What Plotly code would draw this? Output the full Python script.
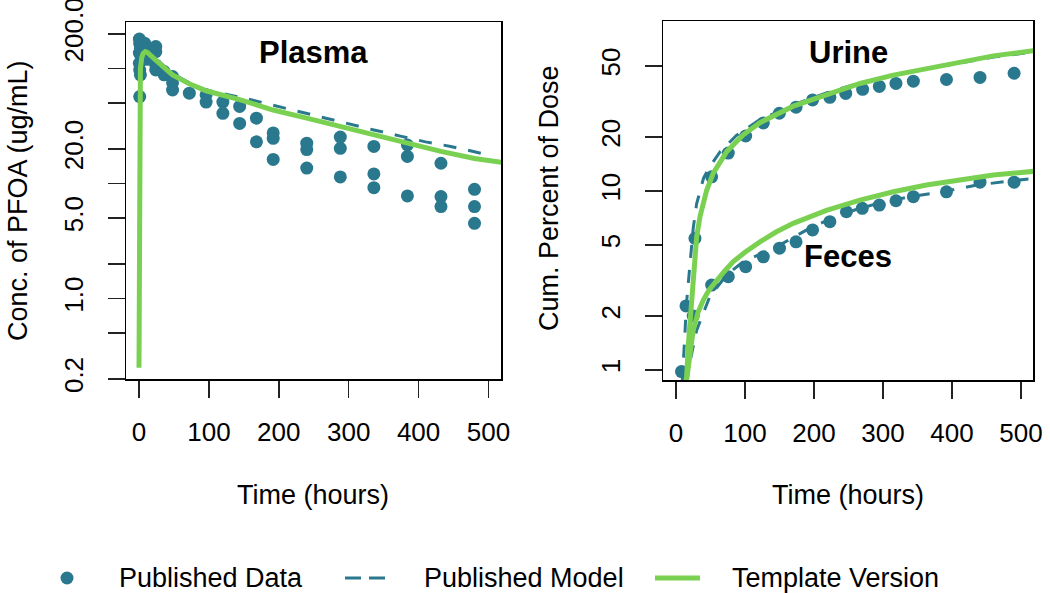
import plotly.graph_objects as go

# ---------------- data ----------------
# Plasma (left panel)
plasma_t = [0.5, 0.5, 0.5, 1, 1, 1, 2, 2, 4, 4, 8, 8, 12, 12,
            24, 24, 24, 24, 36, 36, 48, 48, 48, 72, 96, 96, 120, 120,
            144, 144, 168, 168, 192, 192, 192, 240, 240, 240, 288, 288, 288,
            336, 336, 336, 384, 384, 384, 432, 432, 432, 480, 480, 480]
plasma_v = [180, 136, 111, 165, 97, 57, 150, 88, 160, 125, 166, 145, 150, 120,
            155, 140, 107, 97, 94, 88, 85, 75, 65, 61, 59, 51, 51, 40.7,
            46.8, 33.3, 37, 23, 27.5, 24.7, 16.2, 22.4, 19.7, 13.6, 25.3, 20.2, 11.4,
            21.0, 12.1, 9.2, 21.6, 17.2, 7.8, 15.0, 7.7, 6.3, 8.9, 6.3, 4.5]

plasma_model_t = [0, 0.5, 1, 2, 4, 8, 12, 24, 48, 72, 96, 149, 190, 226, 264,
                  300, 336, 374, 410, 446, 484, 495]
plasma_model_v = [0.3, 45, 80, 105, 128, 140, 138, 122, 90, 75, 65, 55.5, 48.2,
                  42.4, 37, 32.8, 29.2, 25.8, 23.0, 21.0, 18.6, 18.0]

plasma_tmpl_t = [0, 0.25, 0.5, 1, 2, 4, 6, 9, 12, 24, 48, 72, 96, 145, 192,
                 240, 288, 336, 384, 432, 480, 520]
plasma_tmpl_v = [0.25, 8, 40, 75, 100, 125, 135, 140, 138, 118, 88, 73.5, 64,
                 53.4, 43.5, 37, 31.2, 26.3, 22.3, 19.0, 16.5, 15.2]

# Urine & feces (right panel)
urine_t = [8, 14.5, 27.5, 51.7, 75.8, 101, 126.6, 149.8, 174, 198, 223, 246,
           270.5, 294.7, 318.8, 344, 392, 440.6, 490]
urine_v = [0.98, 2.28, 5.44, 12.0, 16.3, 20.3, 24.0, 27.2, 29.4, 32.3, 33.4,
           35.1, 37.0, 38.4, 39.9, 41.1, 42.0, 43.1, 45.5]

feces_t = [25, 51.7, 75.8, 101, 126.6, 150, 174, 198, 223, 247, 270, 294.7,
           318.8, 344, 392, 440.6, 490]
feces_v = [2.0, 2.98, 3.32, 3.78, 4.29, 4.79, 5.2, 6.06, 6.74, 7.66, 8.0, 8.35,
           8.82, 9.3, 9.9, 11.2, 11.2]

urine_model_t = [9, 11, 13, 15, 18, 21, 25, 30, 40, 48, 64, 88, 120, 170, 218,
                 266.7, 315, 363, 411.6, 460, 520]
urine_model_v = [0.85, 1.1, 1.6, 2.3, 3.2, 4.5, 6.2, 8.5, 11.8, 13.5, 16.6,
                 20.5, 24.8, 30.3, 35.3, 40.2, 44.4, 48.2, 52.2, 56.0, 60.0]

urine_tmpl_t = [14, 15.5, 18, 22.7, 30, 34.8, 44.5, 54, 63.8, 73.5, 97.5, 121.7,
                170, 218, 266.7, 315, 363, 411.6, 460, 520]
urine_tmpl_v = [0.8, 0.92, 1.4, 2.36, 5.55, 7.2, 10.1, 12.6, 14.3, 16.6, 20.6,
                24.1, 29.8, 34.7, 39.9, 44.4, 48.4, 52.7, 56.9, 61.0]

feces_model_t = [16, 17.8, 30, 49, 73.5, 97.5, 146, 194, 242.5, 291, 339, 387,
                 436, 484, 520]
feces_model_v = [0.85, 1.0, 1.67, 2.57, 3.4, 4.03, 4.88, 6.2, 7.5, 8.5, 9.3,
                 9.9, 10.8, 11.3, 11.8]

feces_tmpl_t = [14, 15.5, 20, 25, 32, 39.6, 48, 59, 70, 83, 100, 121.7, 145, 170,
                218, 266.7, 315, 363, 411.6, 460, 520]
feces_tmpl_v = [0.8, 0.9, 1.25, 1.67, 2.1, 2.46, 2.8, 3.18, 3.55, 4.03, 4.55,
                5.2, 5.9, 6.6, 7.8, 8.9, 9.9, 10.8, 11.6, 12.3, 12.9]

x_ticks = [0, 100, 200, 300, 400, 500]
left_y_ticks = [0.2, 0.5, 1, 2, 5, 10, 20, 50, 100, 200]
left_y_text = ["0.2", "", "1.0", "", "5.0", "", "20.0", "", "", "200.0"]
right_y_ticks = [1, 2, 5, 10, 20, 50]
right_y_text = ["1", "2", "5", "10", "20", "50"]

legend_names = ["Published Data", "Published Model", "Template Version"]

# ---------------- style ----------------
PT = "#2A788E"
GR = "#7AD151"
FONT = "Liberation Sans, Arial, sans-serif"
OFF = 0                      # page body margin is removed by post_script
W, H = 1050 - OFF, 593 - OFF


def px(x, y):
    """page pixel -> paper fraction"""
    return (x - OFF) / W, 1 - (y - OFF) / H


fig = go.Figure()

def pts(x, y, xa, ya):
    fig.add_trace(go.Scatter(x=x, y=y, mode="markers", xaxis=xa, yaxis=ya,
                             marker=dict(color=PT, size=13, line=dict(width=0)),
                             name=legend_names[0], showlegend=False))

def model(x, y, xa, ya):
    fig.add_trace(go.Scatter(x=x, y=y, mode="lines", xaxis=xa, yaxis=ya,
                             line=dict(color=PT, width=3, dash="13px,12px"),
                             name=legend_names[1], showlegend=False))

def tmpl(x, y, xa, ya):
    fig.add_trace(go.Scatter(x=x, y=y, mode="lines", xaxis=xa, yaxis=ya,
                             line=dict(color=GR, width=5),
                             name=legend_names[2], showlegend=False))

pts(plasma_t, plasma_v, "x", "y")
model(plasma_model_t, plasma_model_v, "x", "y")
tmpl(plasma_tmpl_t, plasma_tmpl_v, "x", "y")

pts(urine_t, urine_v, "x2", "y2")
pts(feces_t, feces_v, "x2", "y2")
model(urine_model_t, urine_model_v, "x2", "y2")
model(feces_model_t, feces_model_v, "x2", "y2")
tmpl(urine_tmpl_t, urine_tmpl_v, "x2", "y2")
tmpl(feces_tmpl_t, feces_tmpl_v, "x2", "y2")

axis_common = dict(showgrid=False, zeroline=False, showline=True, mirror=True,
                   linecolor="#000", linewidth=1.5, ticks="outside", ticklen=17,
                   tickwidth=1.5, tickcolor="#222", ticklabeloverflow="allow",
                   automargin=False,
                   tickfont=dict(family=FONT, size=26, color="#000"))

lx0, _ = px(126, 0)
lx1, _ = px(501, 0)
rx0, _ = px(663, 0)
rx1, _ = px(1033, 0)
_, ly_top = px(0, 22)
_, ly_bot = px(0, 379)
_, ry_top = px(0, 21)
_, ry_bot = px(0, 380)

fig.update_layout(
    template="none",
    width=W, height=H,
    margin=dict(l=0, r=0, t=0, b=0, autoexpand=False),
    paper_bgcolor="white", plot_bgcolor="white",
    font=dict(family=FONT, size=26, color="#000"),
    showlegend=False,
    hovermode=False,
    xaxis=dict(domain=[lx0, lx1], range=[-18.6, 517.9],
               tickvals=x_ticks, ticklabelstandoff=12, anchor="y", **axis_common),
    yaxis=dict(domain=[ly_bot, ly_top], type="log", range=[-0.70, 2.404],
               tickvals=left_y_ticks, ticktext=left_y_text, tickangle=-90,
               ticklabelstandoff=14, anchor="x", **axis_common),
    xaxis2=dict(domain=[rx0, rx1], range=[-18.8, 517.4],
                tickvals=x_ticks, ticklabelstandoff=12, anchor="y2", **axis_common),
    yaxis2=dict(domain=[ry_bot, ry_top], type="log", range=[-0.056, 1.950],
                tickvals=right_y_ticks, ticktext=right_y_text, tickangle=-90,
                ticklabelstandoff=14, anchor="x2", **axis_common),
)

def ann(text, x, y, size=27, bold=False, angle=0, xanchor="center"):
    ax, ay = px(x, y)
    fig.add_annotation(text=f"<b>{text}</b>" if bold else text,
                       x=ax, y=ay, xref="paper", yref="paper",
                       showarrow=False, textangle=angle,
                       font=dict(family=FONT, size=size, color="#000"),
                       xanchor=xanchor, yanchor="middle")

ann("Plasma", 313, 52, size=31, bold=True)
ann("Urine", 848, 52, size=31, bold=True)
ann("Feces", 848, 257, size=31, bold=True)
ann("Time (hours)", 313, 495)
ann("Time (hours)", 848, 495)
ann("Conc. of PFOA (ug/mL)", 18, 201, angle=-90)
ann("Cum. Percent of Dose", 549, 198, angle=-90)

# ---- legend (drawn manually to match spacing) ----
LY = 578
cx0, cy0 = px(60.5, LY - 6.5)
cx1, cy1 = px(73.5, LY + 6.5)
fig.add_shape(type="circle", xref="paper", yref="paper", x0=cx0, x1=cx1,
              y0=cy1, y1=cy0, fillcolor=PT, line=dict(width=0))
dx0, ly = px(345, LY)
dx1, _ = px(388, LY)
fig.add_shape(type="line", xref="paper", yref="paper", x0=dx0, x1=dx1, y0=ly, y1=ly,
              line=dict(color=PT, width=3, dash="16px,8px"))
gx0, _ = px(655, LY)
gx1, _ = px(700, LY)
fig.add_shape(type="line", xref="paper", yref="paper", x0=gx0, x1=gx1, y0=ly, y1=ly,
              line=dict(color=GR, width=5))
ann(legend_names[0], 117, LY, xanchor="left")
ann(legend_names[1], 422, LY, xanchor="left")
ann(legend_names[2], 730, LY, xanchor="left")

fig.write_html("out.html",
               config={"displayModeBar": False, "staticPlot": True},
               post_script="document.body.style.margin='0px';")
